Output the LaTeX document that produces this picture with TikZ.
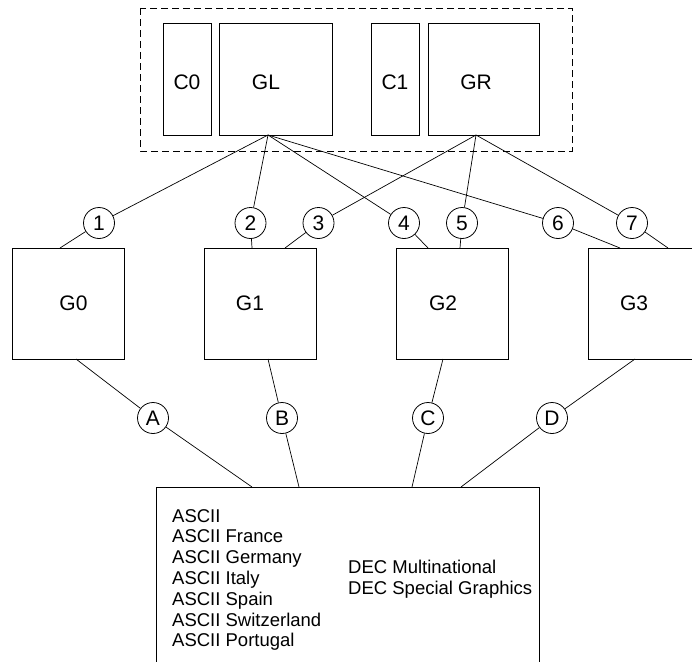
\documentclass[tikz,border=0pt]{standalone}
\usepackage{fontspec}
\setmainfont{Liberation Sans}
\begin{document}
\begin{tikzpicture}[x=1pt,y=-1pt,
    box/.style={shape=rectangle,draw=black,line width=0.8pt,inner sep=0pt},
    port/.style={shape=circle,draw=black,line width=0.8pt,inner sep=0pt,minimum size=31pt,font=\fontsize{21}{21}\selectfont},
    lbl/.style={inner sep=0pt,font=\fontsize{21}{21}\selectfont},
    link/.style={line width=0.7pt},
    setlist/.style={inner sep=0pt,align=left,anchor=north west,font=\fontsize{18.5}{20.8}\selectfont}]
      \clip (0,0) rectangle (692,661);
      \useasboundingbox (0,0) rectangle (692,661);

      % upper frame
      \draw[line width=0.7pt,dash pattern=on 7pt off 4pt] (140,8) rectangle (572,151);

      \node[box,minimum width=48pt,minimum height=112pt] (C0) at (187,79) {};
      \node[box,minimum width=113pt,minimum height=112pt] (GL) at (275.5,79) {};
      \node[box,minimum width=48pt,minimum height=112pt] (C1) at (395,79) {};
      \node[box,minimum width=111pt,minimum height=112pt] (GR) at (483.5,79) {};

      \node[lbl] (C0t) at (187,82) {C0};
      \node[lbl] (GLt) at (266,82) {GL};
      \node[lbl] (C1t) at (395,82) {C1};
      \node[lbl] (GRt) at (476,82) {GR};

      \coordinate (GLo) at (268,135);
      \coordinate (GRo) at (476,135);

      % G0 .. G3
      \node[box,minimum width=112pt,minimum height=111pt] (G0) at (68,303.5) {};
      \node[box,minimum width=112pt,minimum height=111pt] (G1) at (260,303.5) {};
      \node[box,minimum width=112pt,minimum height=111pt] (G2) at (452,303.5) {};
      \node[box,minimum width=112pt,minimum height=111pt] (G3) at (644,303.5) {};

      \node[lbl] (G0t) at (73.5,303.5) {G0};
      \node[lbl] (G1t) at (250,303.5) {G1};
      \node[lbl] (G2t) at (443,303.5) {G2};
      \node[lbl] (G3t) at (634,303.5) {G3};

      \node[port] (N1) at (99,223) {1};
      \node[port] (N2) at (250.5,223) {2};
      \node[port] (N3) at (318.5,223) {3};
      \node[port] (N4) at (404,223) {4};
      \node[port] (N5) at (462,223) {5};
      \node[port] (N6) at (558,223) {6};
      \node[port] (N7) at (632,223) {7};

      \coordinate (G0i) at (60,248);
      \coordinate (G1i) at (252,248);
      \coordinate (G1j) at (285,248);
      \coordinate (G2i) at (428,248);
      \coordinate (G2j) at (460,248);
      \coordinate (G3i) at (620,248);
      \coordinate (G3j) at (668,248);

      \draw[link] (GLo) -- (N1);
      \draw[link] (GLo) -- (N2);
      \draw[link] (GLo) -- (N4);
      \draw[link] (GLo) -- (N6);
      \draw[link] (GRo) -- (N3);
      \draw[link] (GRo) -- (N5);
      \draw[link] (GRo) -- (N7);

      \draw[link] (N1) -- (G0i);
      \draw[link] (N2) -- (G1i);
      \draw[link] (N3) -- (G1j);
      \draw[link] (N4) -- (G2i);
      \draw[link] (N5) -- (G2j);
      \draw[link] (N6) -- (G3i);
      \draw[link] (N7) -- (G3j);

      % character sets
      \node[box,minimum width=383pt,minimum height=213pt] (S) at (347.5,593.5) {};

      \node[port] (NA) at (153,418) {A};
      \node[port] (NB) at (282,418) {B};
      \node[port] (NC) at (428,418) {C};
      \node[port] (ND) at (552,418) {D};

      \coordinate (G0o) at (76,359);
      \coordinate (G1o) at (268,359);
      \coordinate (G2o) at (443,359);
      \coordinate (G3o) at (635,359);

      \coordinate (Sa) at (252,487);
      \coordinate (Sb) at (299,487);
      \coordinate (Sc) at (412,487);
      \coordinate (Sd) at (461,487);

      \draw[link] (G0o) -- (NA);
      \draw[link] (G1o) -- (NB);
      \draw[link] (G2o) -- (NC);
      \draw[link] (G3o) -- (ND);

      \draw[link] (NA) -- (Sa);
      \draw[link] (NB) -- (Sb);
      \draw[link] (NC) -- (Sc);
      \draw[link] (ND) -- (Sd);

      \node[setlist] (ascii) at (172,509) {ASCII\\ASCII France\\ASCII Germany\\ASCII Italy\\ASCII Spain\\ASCII Switzerland\\ASCII Portugal};
      \node[setlist] (dec) at (348,560) {DEC Multinational\\DEC Special Graphics};
\end{tikzpicture}
\end{document}
